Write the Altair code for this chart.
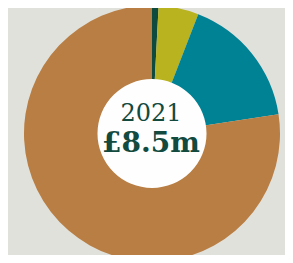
import altair as alt
import pandas as pd

categories = ["A", "B", "C", "D"]
values = [0.07, 0.43, 1.42, 6.58]
colors = ["#0f4a3f", "#b8b31f", "#008295", "#b87e43"]
order = [1, 2, 3, 4]
year_label = "2021"
total_label = "£8.5m"

df = pd.DataFrame({"cat": categories, "value": values, "ord": order})

CX, CY = 144, 125.5

pie = alt.Chart(df).mark_arc(radius=128, innerRadius=50, stroke=None).encode(
    theta=alt.Theta("value:Q", stack=True),
    order=alt.Order("ord:Q"),
    color=alt.Color("cat:N", scale=alt.Scale(domain=categories, range=colors), legend=None),
    x=alt.value(CX),
    y=alt.value(CY),
)

center = alt.Chart(pd.DataFrame({"v": [1]})).mark_arc(
    radius=54.5, theta=0, theta2=6.2832, color="#fefefe"
).encode(
    x=alt.value(CX),
    y=alt.value(CY),
)

txt = pd.DataFrame({"t": [year_label, total_label], "row": [0, 1]})
t1 = alt.Chart(txt.iloc[[0]]).mark_text(
    font="DejaVu Serif", fontSize=24, color="#124a40", baseline="middle", align="center"
).encode(text="t:N", x=alt.value(CX - 1), y=alt.value(106))
t2 = alt.Chart(txt.iloc[[1]]).mark_text(
    font="DejaVu Serif", fontSize=28, fontWeight="bold", color="#124a40", baseline="middle", align="center"
).encode(text="t:N", x=alt.value(CX - 1), y=alt.value(136))

chart = alt.layer(pie, center, t1, t2).properties(
    width=277, height=247, padding=0, autosize=alt.AutoSizeParams(type="none"),
    background="#e1e1dc",
).configure_view(stroke=None)

chart.save("out.html", embed_options={"renderer": "svg", "actions": False})
